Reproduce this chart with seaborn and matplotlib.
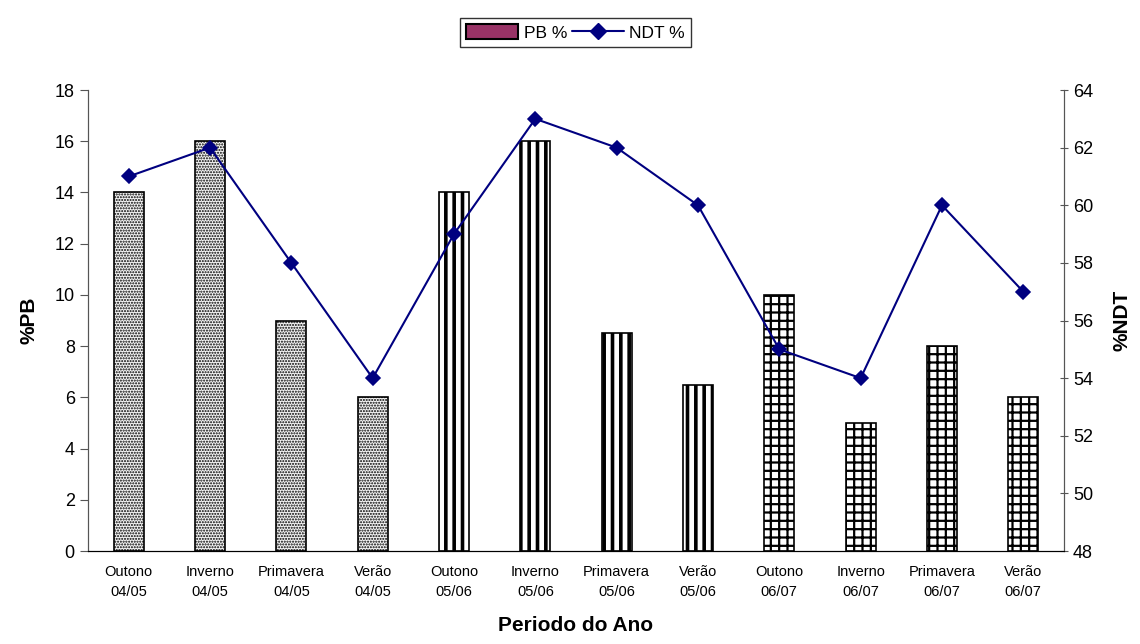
import matplotlib.pyplot as plt
import matplotlib.patches as mpatches
import matplotlib.lines as mlines
import seaborn as sns
import pandas as pd
import numpy as np

periodos = ["Outono\n04/05", "Inverno\n04/05", "Primavera\n04/05", "Verão\n04/05",
            "Outono\n05/06", "Inverno\n05/06", "Primavera\n05/06", "Verão\n05/06",
            "Outono\n06/07", "Inverno\n06/07", "Primavera\n06/07", "Verão\n06/07"]
pb = [14, 16, 9, 6, 14, 16, 8.5, 6.5, 10, 5, 8, 6]
ndt = [61, 62, 58, 54, 59, 63, 62, 60, 55, 54, 60, 57]
hatches = ["......"] * 4 + ["||"] * 4 + ["++"] * 4

df = pd.DataFrame({"Periodo": periodos, "PB": pb, "NDT": ndt})

sns.set_style("white")
plt.rcParams['font.family'] = ['Liberation Sans', 'DejaVu Sans']
plt.rcParams['text.color'] = 'black'
plt.rcParams['axes.labelcolor'] = 'black'
plt.rcParams['xtick.color'] = 'black'
plt.rcParams['ytick.color'] = 'black'
plt.rcParams['hatch.linewidth'] = 1.0

fig = plt.figure(figsize=(11.4, 6.44), dpi=100)
ax = fig.add_axes([0.0772, 0.1444, 0.8561, 0.7158])

sns.barplot(data=df, x="Periodo", y="PB", ax=ax, width=0.37, color="white",
            edgecolor="black", linewidth=1.2)
for bar, h in zip(ax.patches, hatches):
    bar.set_hatch(h)
    bar.set_facecolor("#f4f4f4" if h.startswith(".") else "white")
    lw = {"|": 2.6, "+": 1.6}.get(h[0])
    if lw:
        try:
            bar.set_hatch_linewidth(lw)
        except AttributeError:
            pass

ax2 = ax.twinx()
sns.pointplot(data=df, x="Periodo", y="NDT", ax=ax2, color="#000080", markers="D",
              markersize=7, linewidth=1.5)

ax.set_xlim(-0.5, 11.5)
ax.set_ylim(0, 18)
ax.set_yticks(range(0, 19, 2))
ax2.set_ylim(48, 64)
ax2.set_yticks(range(48, 65, 2))

ax.set_xticks(range(12))
ax.set_xticklabels(periodos, fontsize=10.5, linespacing=1.6)
ax.set_xticks(np.arange(-0.5, 12, 1), minor=True)
ax.tick_params(axis="x", which="major", length=0, pad=10)
ax.tick_params(axis="x", which="minor", length=5, width=0.8, color="black", direction="out")
ax.tick_params(axis="y", labelsize=13, length=6, width=0.8, color="#555555", left=True, direction="out")
ax2.tick_params(axis="y", labelsize=13, length=6, width=0.8, color="#555555", right=True, direction="inout")

ax.set_xlabel("Periodo do Ano", fontsize=15, fontweight="bold", labelpad=12)
ax.set_ylabel("%PB", fontsize=15, fontweight="bold", labelpad=12)
ax2.set_ylabel("%NDT", fontsize=15, fontweight="bold", labelpad=14, rotation=90)

for a in (ax, ax2):
    a.spines["top"].set_visible(False)
    a.spines["left"].set_color("#555555")
    a.spines["right"].set_color("#555555")
    a.spines["bottom"].set_color("black")
    a.grid(False)

handles = [mpatches.Patch(facecolor="#993366", edgecolor="black", linewidth=1.5, label="PB %"),
           mlines.Line2D([], [], color="#000080", marker="D", markersize=8, linewidth=1.5, label="NDT %")]
leg = fig.legend(handles=handles, loc="upper center", bbox_to_anchor=(0.505, 0.985), ncol=2,
                 frameon=True, fancybox=False, edgecolor="black", fontsize=12.5,
                 handlelength=3.0, handleheight=0.9, handletextpad=0.3, columnspacing=0.3,
                 borderpad=0.35)
leg.get_frame().set_linewidth(1.0)

fig.savefig("out.png", dpi=100)
